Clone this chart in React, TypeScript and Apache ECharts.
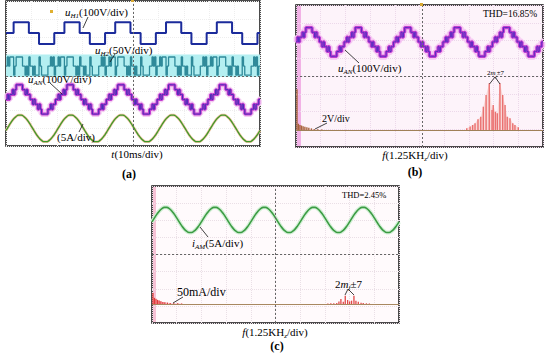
import React, { useEffect, useRef } from "react";
import * as echarts from "echarts";

// ---------------- data ----------------
// time-domain traces: one 20 ms period sampled every 0.5 ms (u) / 1 ms (i)
const PERIOD_MS = 20;
const N_PERIODS = 5;
const TIME_SPAN_MS = 100; // 10 div x 10 ms/div
const FREQ_SPAN_KHZ = 12.5; // 10 div x 1.25 kHz/div

// u_H1 (V), every 0.5 ms
const uH1Period = [
  0, 0, 0, 0, 0, 0, 60, 60, 60, 60, 60, 60, 60, 60, 60, 60, 60, 60, 0, 0,
  0, 0, 0, 0, 0, 0, -60, -60, -60, -60, -60, -60, -60, -60, -60, -60, -60, -60, 0, 0,
];
// u_H2 (V), every 0.5 ms
const uH2Period = [
  0, 25, 0, 25, 25, 25, -25, 0, 25, 25, 25, 25, 25, 0, 0, -25, 0, -25, 25, 0,
  0, -25, 0, -25, -25, -25, 25, 0, -25, -25, -25, -25, -25, 0, 0, 25, 0, 25, -25, 0,
];
// u_AN (V), every 0.5 ms (7-level staircase)
const uANPeriod = [
  0, 27, 0, 27, 27, 54, 27, 54, 81, 81, 81, 81, 81, 54, 54, 27, 54, 27, 27, 0,
  0, -27, 0, -27, -27, -54, -27, -54, -81, -81, -81, -81, -81, -54, -54, -27, -54, -27, -27, 0,
];
// i_AN (A), every 1 ms
const iPeriod = [
  -0.58, 0.58, 1.68, 2.62, 3.3, 3.66, 3.66, 3.3, 2.62, 1.68,
  0.58, -0.58, -1.68, -2.62, -3.3, -3.66, -3.66, -3.3, -2.62, -1.68,
];

// spectra: [frequency kHz, amplitude]
// (b) u_AN spectrum, V
const specBLow: [number, number][] = [
  [0.05, 4.6], [0.12, 0.7], [0.2, 0.55], [0.28, 0.5], [0.36, 0.42], [0.45, 0.36],
  [0.55, 0.3], [0.65, 0.24], [0.78, 0.18], [0.92, 0.12], [1.1, 0.08], [1.3, 0.06],
];
const specBCluster: [number, number][] = [
  [8.64, 0.2], [8.81, 0.38], [8.94, 0.56], [9.06, 0.76], [9.21, 1.2], [9.35, 1.5],
  [9.48, 2.62], [9.62, 3.94], [9.78, 5.26], [9.92, 2.26], [9.98, 2.82], [10.09, 2.06],
  [10.19, 1.88], [10.32, 5.26], [10.46, 3.94], [10.58, 2.82], [10.69, 1.5], [10.83, 1.32],
  [10.97, 0.76], [11.08, 0.56], [11.25, 0.3],
];
// (c) i_AM spectrum, mA
const specCLow: [number, number][] = [
  [0.05, 32], [0.12, 18], [0.2, 15], [0.28, 12], [0.36, 10], [0.45, 8], [0.55, 6],
  [0.65, 5], [0.78, 4], [0.92, 3], [1.1, 2.5], [1.3, 2], [1.5, 1.5],
];
const specCCluster: [number, number][] = [
  [8.9, 1.5], [9.05, 2], [9.2, 2.5], [9.35, 3], [9.46, 7.6], [9.56, 14.6], [9.68, 6.7],
  [9.78, 24], [9.9, 11.7], [10.0, 7.6], [10.1, 9.7], [10.22, 24], [10.32, 9.7],
  [10.44, 6.7], [10.58, 3.8], [10.69, 3], [10.85, 2], [11.0, 1.5],
];

// channel settings: [units per div, zero position in div from screen centre]
const CH_A_H1 = { perDiv: 100, pos: 2.23 };
const CH_A_H2 = { perDiv: 50, pos: 0.41 };
const CH_A_AN = { perDiv: 100, pos: -1.43 };
const CH_A_I = { perDiv: 5, pos: -3.03 };
const CH_B_AN = { perDiv: 100, pos: 1.92 };
const CH_B_SPEC = { perDiv: 2, pos: -3.04 };
const CH_C_I = { perDiv: 5, pos: 2.02 };
const CH_C_SPEC = { perDiv: 50, pos: -2.89 };

// ---------------- helpers ----------------
const SERIF = '"Liberation Serif", "Times New Roman", serif';

function periodic(values: number[], step: number): [number, number][] {
  const out: [number, number][] = [];
  for (let p = 0; p < N_PERIODS; p++) {
    values.forEach((v, k) => out.push([p * PERIOD_MS + k * step, v]));
  }
  out.push([N_PERIODS * PERIOD_MS, values[0]]);
  return out;
}

function chAxis(gridIndex: number, ch: { perDiv: number; pos: number }) {
  return {
    type: "value",
    gridIndex,
    show: false,
    min: (-4 - ch.pos) * ch.perDiv,
    max: (4 - ch.pos) * ch.perDiv,
  };
}

const faint = (color: string) => ({
  show: true,
  lineStyle: { color, type: "dotted", width: 1 },
});

function gratX(gridIndex: number, color: string) {
  return {
    type: "value",
    gridIndex,
    min: 0,
    max: TIME_SPAN_MS,
    interval: 10,
    axisLine: { show: false },
    axisTick: { show: false },
    axisLabel: { show: false },
    splitLine: faint(color),
  };
}
function gratY(gridIndex: number, color: string) {
  return {
    type: "value",
    gridIndex,
    min: -4,
    max: 4,
    interval: 1,
    axisLine: { show: false },
    axisTick: { show: false },
    axisLabel: { show: false },
    splitLine: faint(color),
  };
}

function centreLines(xAxisIndex: number, yAxisIndex: number, xv: number, yv: number) {
  return {
    type: "line",
    xAxisIndex,
    yAxisIndex,
    data: [[xv, yv]],
    symbol: "none",
    lineStyle: { opacity: 0 },
    silent: true,
    markLine: {
      silent: true,
      symbol: ["none", "none"],
      label: { show: false },
      lineStyle: { color: "#666", type: [2, 2], width: 1 },
      data: [{ xAxis: xv }, { yAxis: yv }],
    },
  };
}

function trace(
  xAxisIndex: number,
  yAxisIndex: number,
  data: [number, number][],
  color: string,
  width: number,
  opts: any = {}
) {
  return {
    type: "line",
    xAxisIndex,
    yAxisIndex,
    data,
    symbol: "none",
    silent: true,
    lineStyle: { color, width },
    ...opts,
  };
}

const rich = (size: number) => ({
  n: { fontFamily: SERIF, fontSize: size, lineHeight: size + 3, verticalAlign: "middle", fill: "#000" },
  i: { fontFamily: SERIF, fontSize: size, fontStyle: "italic", lineHeight: size + 3, verticalAlign: "middle", fill: "#000" },
  s: { fontFamily: SERIF, fontSize: Math.round(size * 0.62), fontStyle: "italic", lineHeight: Math.round(size * 0.7), verticalAlign: "bottom", fill: "#000" },
  b: { fontFamily: SERIF, fontSize: size, fontWeight: "bold", lineHeight: size + 3, verticalAlign: "middle", fill: "#000" },
});

function txt(x: number, y: number, text: string, size: number, align = "left", fill = "#000") {
  return {
    type: "text",
    x,
    y,
    z: 100,
    silent: true,
    style: {
      text,
      rich: rich(size),
      fill,
      fontFamily: SERIF,
      fontSize: size,
      textAlign: align,
      textVerticalAlign: "middle",
    },
  };
}
function ln(x1: number, y1: number, x2: number, y2: number, w = 0.8) {
  return {
    type: "line",
    z: 100,
    silent: true,
    shape: { x1, y1, x2, y2 },
    style: { stroke: "#111", lineWidth: w },
  };
}
function box(x: number, y: number, w: number, h: number, fill: string, z = 1) {
  return { type: "rect", z, silent: true, shape: { x, y, width: w, height: h }, style: { fill } };
}

// ---------------- option ----------------
const uH1 = periodic(uH1Period, 0.5);
const uH2 = periodic(uH2Period, 0.5);
const uAN = periodic(uANPeriod, 0.5);
const iAN = periodic(iPeriod, 1);

const barsB = [
  ...specBLow.map((p) => ({ value: p, itemStyle: { color: "#a8643c" } })),
  ...specBCluster.map((p) => ({ value: p, itemStyle: { color: "#ea7070" } })),
];
const barsC = [
  ...specCLow.map((p) => ({ value: p, itemStyle: { color: "#e23a3a" } })),
  ...specCCluster.map((p) => ({ value: p, itemStyle: { color: "#e04848" } })),
];

const baseline = (color: string) => ({
  silent: true,
  symbol: ["none", "none"],
  label: { show: false },
  lineStyle: { color, type: "solid", width: 1 },
  data: [{ yAxis: 0 }],
});

const option: any = {
  animation: false,
  backgroundColor: "#ffffff",
  grid: [
    { left: 6, top: 1, width: 254, height: 145, show: true, borderColor: "#111", borderWidth: 1.5, backgroundColor: "#ffffff" },
    { left: 296, top: 5, width: 247, height: 142, show: true, borderColor: "#111", borderWidth: 1.5, backgroundColor: "#fdf3fa" },
    { left: 152, top: 186, width: 247, height: 137, show: true, borderColor: "#111", borderWidth: 1.5, backgroundColor: "#fffafc" },
  ],
  xAxis: [
    gratX(0, "#eeeeee"),
    gratX(1, "#ecd8ea"),
    { type: "value", gridIndex: 1, min: 0, max: FREQ_SPAN_KHZ, show: false },
    gratX(2, "#eadfe6"),
    { type: "value", gridIndex: 2, min: 0, max: FREQ_SPAN_KHZ, show: false },
  ],
  yAxis: [
    gratY(0, "#eeeeee"),
    chAxis(0, CH_A_H1),
    chAxis(0, CH_A_H2),
    chAxis(0, CH_A_AN),
    chAxis(0, CH_A_I),
    gratY(1, "#ecd8ea"),
    chAxis(1, CH_B_AN),
    chAxis(1, CH_B_SPEC),
    gratY(2, "#eadfe6"),
    chAxis(2, CH_C_I),
    chAxis(2, CH_C_SPEC),
  ],
  series: [
    // ---- (a)
    centreLines(0, 0, 50, -0.13),
    trace(0, 2, uH2, "#2f8a9a", 1.3, {
      step: "end",
      markArea: {
        silent: true,
        itemStyle: { color: "#b4eff1" },
        data: [[{ yAxis: 32 }, { yAxis: -30 }]],
      },
    }),
    trace(0, 1, uH1, "#1b2b9b", 2, { step: "end" }),
    trace(0, 3, uAN, "#f4cdf2", 6, { step: "end" }),
    trace(0, 3, uAN, "#c23fd0", 3, { step: "end" }),
    trace(0, 3, uAN, "#4b2cb5", 1, { step: "end" }),
    trace(0, 4, iAN, "#f0c0a0", 2.6, { smooth: true }),
    trace(0, 4, iAN, "#3d9a2a", 1.3, { smooth: true }),
    // ---- (b)
    centreLines(1, 5, 51, 0),
    trace(1, 6, uAN, "#f6c8f3", 7, { step: "end" }),
    trace(1, 6, uAN, "#c23fd0", 3.2, { step: "end" }),
    trace(1, 6, uAN, "#5b2cc0", 1, { step: "end" }),
    trace(2, 7, specBCluster, "#f8d0d0", 0, {
      lineStyle: { width: 0, opacity: 0 },
      areaStyle: { color: "#f9d8d8", opacity: 1 },
      z: 1,
    }),
    {
      type: "bar",
      xAxisIndex: 2,
      yAxisIndex: 7,
      data: barsB,
      barWidth: 1.4,
      silent: true,
      markLine: baseline("#a08058"),
    },
    // ---- (c)
    centreLines(3, 8, 50, 0),
    trace(3, 9, iAN, "#d3efd6", 4, { smooth: true }),
    trace(3, 9, iAN, "#3c9c44", 1.6, { smooth: true }),
    trace(4, 10, specCLow, "#f8d4dc", 0, {
      lineStyle: { width: 0, opacity: 0 },
      areaStyle: { color: "#f9d6de", opacity: 1 },
      z: 1,
    }),
    {
      type: "bar",
      xAxisIndex: 4,
      yAxisIndex: 10,
      data: barsC,
      barWidth: 1.3,
      silent: true,
      markLine: baseline("#a88860"),
    },
  ],
  graphic: [
    // pinkish left edges of the spectrum screens
    box(297, 6, 4, 140, "#f2b2e6", 0),
    box(153, 187, 3, 135, "#f6c2d6", 0),
    // trigger markers
    box(50, 10, 3, 3, "#e0b030", 100),
    box(420, 3, 3, 3, "#d8a830", 100),
    box(131, 0, 3, 2, "#d8a830", 100),
    // (a) labels
    txt(65, 12, "{i|u}{s|H1}{n|(100V/div)}", 11),
    ln(88, 17, 83, 28),
    txt(95, 50, "{i|u}{s|H2}{n|(50V/div)}", 11),
    ln(115, 54, 110, 62),
    txt(28, 79, "{i|u}{s|AN}{n|(100V/div)}", 11),
    ln(50, 83, 62, 94),
    txt(57, 137, "{n|(5A/div)}", 11),
    ln(79, 132, 83, 124),
    txt(137, 154, "{i|t}{n|(10ms/div)}", 11, "center"),
    txt(129, 174, "{b|(a)}", 12, "center"),
    // (b) labels
    txt(483, 14, "{n|THD=16.85%}", 9.5),
    txt(338, 68, "{i|u}{s|AN}{n|(100V/div)}", 11),
    ln(359, 63, 345, 50),
    txt(322, 118, "{n|2V/div}", 10),
    ln(327, 123, 315, 129),
    txt(487, 73, "{n|2}{i|m}{s|f}{n|±7}", 7),
    ln(495, 77, 489.5, 84),
    ln(495, 77, 500, 84),
    txt(415, 155, "{i|f}{n|(1.25KH}{s|z}{n|/div)}", 11, "center"),
    txt(415, 172, "{b|(b)}", 12, "center"),
    // (c) labels
    txt(342, 195, "{n|THD=2.45%}", 8.5),
    txt(192, 243, "{i|i}{s|AM}{n|(5A/div)}", 11),
    ln(208, 237, 200, 227),
    txt(177, 292, "{n|50mA/div}", 12),
    ln(183, 297, 173, 303),
    txt(335, 284, "{n|2}{i|m}{s|f}{n|±7}", 11),
    ln(348, 289, 345, 295),
    ln(348, 289, 354, 295),
    txt(275, 332, "{i|f}{n|(1.25KH}{s|z}{n|/div)}", 11, "center"),
    txt(277, 346, "{b|(c)}", 12, "center"),
  ],
};

export default function App() {
  const ref = useRef<HTMLDivElement>(null);
  useEffect(() => {
    if (!ref.current) return;
    const chart = echarts.init(ref.current, null, { renderer: "svg" });
    chart.setOption(option);
    return () => chart.dispose();
  }, []);
  return (
    <div
      ref={ref}
      style={{ position: "absolute", left: 0, top: 0, width: 550, height: 357, background: "#fff" }}
    />
  );
}
